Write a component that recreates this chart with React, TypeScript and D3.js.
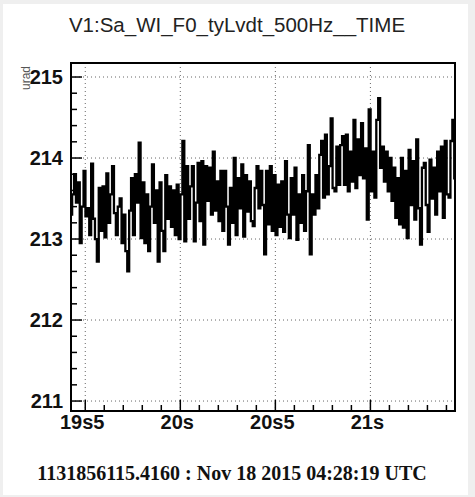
import React from "react";
import * as d3 from "d3";

// ---- data ----
const title = "V1:Sa_WI_F0_tyLvdt_500Hz__TIME";
const yAxisTitle = "urad";
const footer = "1131856115.4160 : Nov 18 2015 04:28:19 UTC";
const tStart = 19.426; // seconds
const tStep = 0.01; // sample spacing of the read-off values
const xTickValues = [19.5, 20, 20.5, 21];
const xTickLabels = ["19s5", "20s", "20s5", "21s"];
const yTickValues = [211, 212, 213, 214, 215];
const xDomain = [19.425, 21.445];
const yDomain = [210.877, 215.173];

const values = [
  213.30, 213.55, 213.80, 213.45, 213.70, 212.95, 213.40, 213.84, 213.28, 213.38,
  213.05, 213.93, 213.25, 213.00, 212.72, 213.63, 213.10, 213.65, 213.02, 213.81,
  213.20, 213.55, 213.90, 213.32, 213.05, 213.40, 213.50, 212.95, 213.30, 212.85,
  212.60, 213.35, 213.75, 213.05, 213.80, 213.45, 214.19, 213.01, 213.70, 212.95,
  213.55, 212.85, 213.40, 213.92, 213.20, 213.60, 212.72, 213.70, 213.10, 212.85,
  213.79, 213.25, 213.65, 213.15, 213.60, 213.05, 213.67, 213.00, 213.55, 214.21,
  212.97, 213.90, 213.25, 213.65, 213.90, 212.97, 213.45, 213.94, 213.22, 213.96,
  212.93, 213.90, 213.47, 213.88, 213.30, 214.08, 213.35, 213.71, 213.22, 213.84,
  213.10, 213.84, 213.40, 212.93, 213.63, 213.20, 214.00, 213.05, 213.75, 213.38,
  213.92, 213.03, 213.79, 213.34, 213.71, 213.22, 213.16, 213.63, 213.90, 213.38,
  213.84, 213.42, 212.81, 213.84, 213.18, 213.90, 213.10, 213.79, 213.05, 213.67,
  213.15, 213.71, 213.09, 213.96, 213.30, 213.01, 213.75, 213.30, 213.88, 212.99,
  213.55, 213.20, 213.79, 213.10, 213.59, 214.16, 212.81, 213.55, 213.30, 213.79,
  213.38, 214.04, 214.21, 213.51, 214.29, 213.55, 213.90, 214.49, 213.63, 213.59,
  214.14, 213.67, 214.16, 214.27, 213.67, 214.29, 213.59, 214.08, 213.71, 214.47,
  213.63, 214.23, 213.79, 214.43, 213.75, 214.12, 213.24, 214.60, 213.59, 214.08,
  213.51, 214.47, 214.74, 213.88, 214.14, 213.71, 214.08, 213.59, 214.00, 213.47,
  213.88, 213.26, 213.75, 213.18, 214.00, 213.14, 213.84, 213.01, 214.10, 213.42,
  213.96, 213.24, 214.23, 213.38, 212.93, 213.88, 213.94, 213.42, 213.09, 213.98,
  213.50, 213.88, 213.30, 214.08, 213.59, 214.14, 213.26, 214.21, 213.55, 213.51,
  214.21, 214.47, 213.75,
];

const W = 475;
const H = 497;
const M = { left: 71, right: 455, top: 63, bottom: 411 };

export default function App() {
  const x = d3.scaleLinear().domain(xDomain).range([M.left, M.right]);
  const y = d3.scaleLinear().domain(yDomain).range([M.bottom, M.top]);

  const pts: [number, number][] = values.map((v, i) => [tStart + i * tStep, v]);
  const line = d3
    .line<[number, number]>()
    .x((d) => x(d[0]))
    .y((d) => y(d[1]))
    .curve(d3.curveStep);

  const xMinor = d3.range(19.4, 21.5, 0.1).filter((t) => {
    const px = x(t);
    return px > M.left + 0.5 && px < M.right - 0.5 && !xTickValues.some((m) => Math.abs(m - t) < 1e-6);
  });
  const yMinor = d3.range(210.8, 215.4, 0.2).filter((v) => {
    const py = y(v);
    return py > M.top + 0.5 && py < M.bottom - 0.5 && !yTickValues.some((m) => Math.abs(m - v) < 1e-6);
  });

  const sans = "'Liberation Sans', Arial, Helvetica, sans-serif";

  return (
    <svg
      width={W}
      height={H}
      style={{ position: "absolute", left: 0, top: 0, display: "block" }}
    >
      <rect x={0} y={0} width={W} height={H} fill="#efefef" />
      <rect x={3} y={4} width={465} height={491} fill="#ffffff" />

      <text x={237} y={32} textAnchor="middle" fontFamily={sans} fontSize={20.5} fill="#222">
        {title}
      </text>

      {/* grid */}
      <g stroke="#666" strokeWidth={1} strokeDasharray="1 3">
        {xTickValues.map((t) => (
          <line key={"gx" + t} x1={x(t)} x2={x(t)} y1={M.top} y2={M.bottom} />
        ))}
        {yTickValues.map((v) => (
          <line key={"gy" + v} x1={M.left} x2={M.right} y1={y(v)} y2={y(v)} />
        ))}
      </g>

      {/* data */}
      <path d={line(pts) || ""} fill="none" stroke="#000" strokeWidth={2.3} />

      {/* frame */}
      <rect
        x={M.left}
        y={M.top}
        width={M.right - M.left}
        height={M.bottom - M.top}
        fill="none"
        stroke="#000"
        strokeWidth={2}
      />

      {/* ticks */}
      <g stroke="#000" strokeWidth={1.5}>
        {xTickValues.map((t) => (
          <line key={"tx" + t} x1={x(t)} x2={x(t)} y1={M.bottom} y2={M.bottom - 11} />
        ))}
        {xMinor.map((t) => (
          <line key={"mx" + t} x1={x(t)} x2={x(t)} y1={M.bottom} y2={M.bottom - 6} />
        ))}
        {yTickValues.map((v) => (
          <line key={"ty" + v} x1={M.left} x2={M.left + 11} y1={y(v)} y2={y(v)} />
        ))}
        {yMinor.map((v) => (
          <line key={"my" + v} x1={M.left} x2={M.left + 6} y1={y(v)} y2={y(v)} />
        ))}
      </g>

      {/* tick labels */}
      <g fontFamily={sans} fontSize={20} fontWeight="bold" fill="#111">
        {yTickValues.map((v) => (
          <text key={"ly" + v} x={63} y={y(v) + 7} textAnchor="end">
            {v}
          </text>
        ))}
        {xTickValues.map((t, i) => (
          <text key={"lx" + t} x={x(t) - 3} y={429} textAnchor="middle">
            {xTickLabels[i]}
          </text>
        ))}
      </g>

      <text
        transform="translate(30,66) rotate(-90)"
        textAnchor="end"
        fontFamily={sans}
        fontSize={12}
        fill="#555"
      >
        {yAxisTitle}
      </text>

      <text
        x={232}
        y={480}
        textAnchor="middle"
        fontFamily="'Liberation Serif', 'Times New Roman', serif"
        fontWeight="bold"
        fontSize={20}
        fill="#111"
      >
        {footer}
      </text>
    </svg>
  );
}
